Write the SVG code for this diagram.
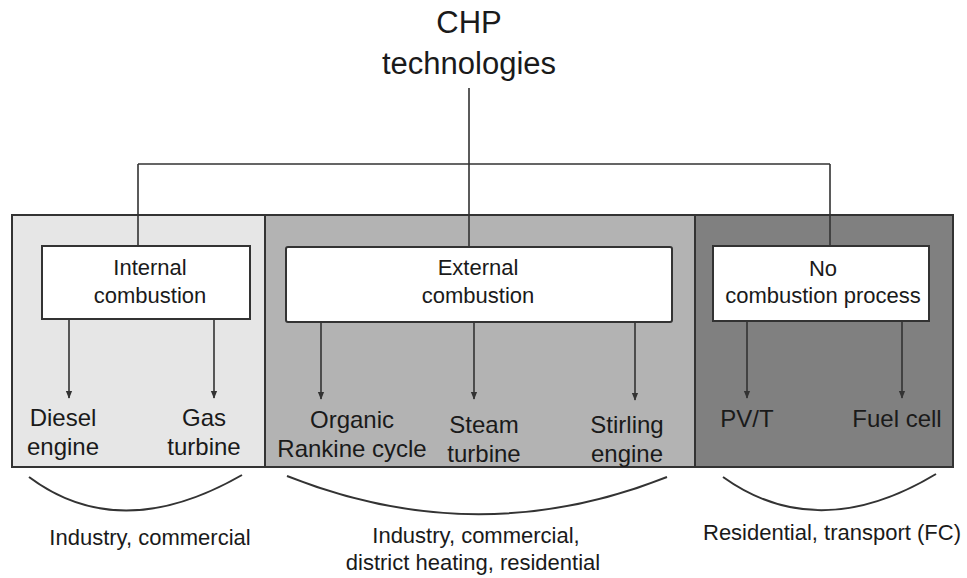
<svg xmlns="http://www.w3.org/2000/svg" width="967" height="578" viewBox="0 0 967 578">
<style>
text{font-family:"Liberation Sans",Arial,sans-serif;fill:#1a1a1a;text-anchor:middle}
.t{font-size:31px}
.h{font-size:22px}
.l{font-size:24px}
.b{font-size:22px}
.panel{stroke:#333;stroke-width:2}
.box{fill:#fff;stroke:#333;stroke-width:2}
.c{fill:none;stroke:#333;stroke-width:1.6}
.arc{fill:none;stroke:#333;stroke-width:2}
</style>
<defs>
<marker id="ah" viewBox="0 0 10 10" refX="9" refY="5" markerWidth="8" markerHeight="8" markerUnits="userSpaceOnUse" orient="auto">
<path d="M0,1 L10,5 L0,9 z" fill="#333"/>
</marker>
</defs>
<rect width="967" height="578" fill="#fff"/>
<g id="panels">
<rect class="panel" x="12" y="215" width="253" height="252" fill="#e6e6e6"/>
<rect class="panel" x="265" y="215" width="430" height="252" fill="#b3b3b3"/>
<rect class="panel" x="695" y="215" width="258" height="252" fill="#808080"/>
</g>
<g id="root">
<text class="t" x="469" y="33">CHP</text>
<text class="t" x="469" y="74">technologies</text>
</g>
<g id="connectors">
<path class="c" d="M469,88 V164 M138,164 H830 M138,164 V246 M469,164 V247 M830,164 V246"/>
<path class="c" marker-end="url(#ah)" d="M69,319 V398"/>
<path class="c" marker-end="url(#ah)" d="M214,319 V398"/>
<path class="c" marker-end="url(#ah)" d="M321,322 V399"/>
<path class="c" marker-end="url(#ah)" d="M474,322 V399"/>
<path class="c" marker-end="url(#ah)" d="M635,322 V400"/>
<path class="c" marker-end="url(#ah)" d="M747,321 V398"/>
<path class="c" marker-end="url(#ah)" d="M902,321 V398"/>
</g>
<g id="internal">
<rect class="box" x="42" y="246" width="208" height="73"/>
<text class="h" x="150" y="275">Internal</text>
<text class="h" x="150" y="303">combustion</text>
</g>
<g id="external">
<rect class="box" x="286" y="247" width="386" height="75" rx="2"/>
<text class="h" x="478" y="275">External</text>
<text class="h" x="478" y="303">combustion</text>
</g>
<g id="nocombustion">
<rect class="box" x="713" y="246" width="216" height="75"/>
<text class="h" x="823" y="276">No</text>
<text class="h" x="823" y="303">combustion process</text>
</g>
<g id="diesel"><text class="l" x="63" y="426">Diesel</text><text class="l" x="63" y="455">engine</text></g>
<g id="gas"><text class="l" x="204" y="426">Gas</text><text class="l" x="204" y="455">turbine</text></g>
<g id="orc"><text class="l" x="352" y="428">Organic</text><text class="l" x="352" y="457">Rankine cycle</text></g>
<g id="steam"><text class="l" x="484" y="433">Steam</text><text class="l" x="484" y="462">turbine</text></g>
<g id="stirling"><text class="l" x="627" y="433">Stirling</text><text class="l" x="627" y="462">engine</text></g>
<g id="pvt"><text class="l" x="747" y="427">PV/T</text></g>
<g id="fuelcell"><text class="l" x="897" y="427">Fuel cell</text></g>
<g id="applications">
<path class="arc" d="M29,477 Q120,545 242,475"/>
<path class="arc" d="M287,476 Q478,552 667,477"/>
<path class="arc" d="M723,477 Q818,545 936,474"/>
<text class="b" x="150" y="545">Industry, commercial</text>
<text class="b" x="476" y="543">Industry, commercial,</text>
<text class="b" x="473" y="570">district heating, residential</text>
<text class="b" x="832" y="540">Residential, transport (FC)</text>
</g>
</svg>
